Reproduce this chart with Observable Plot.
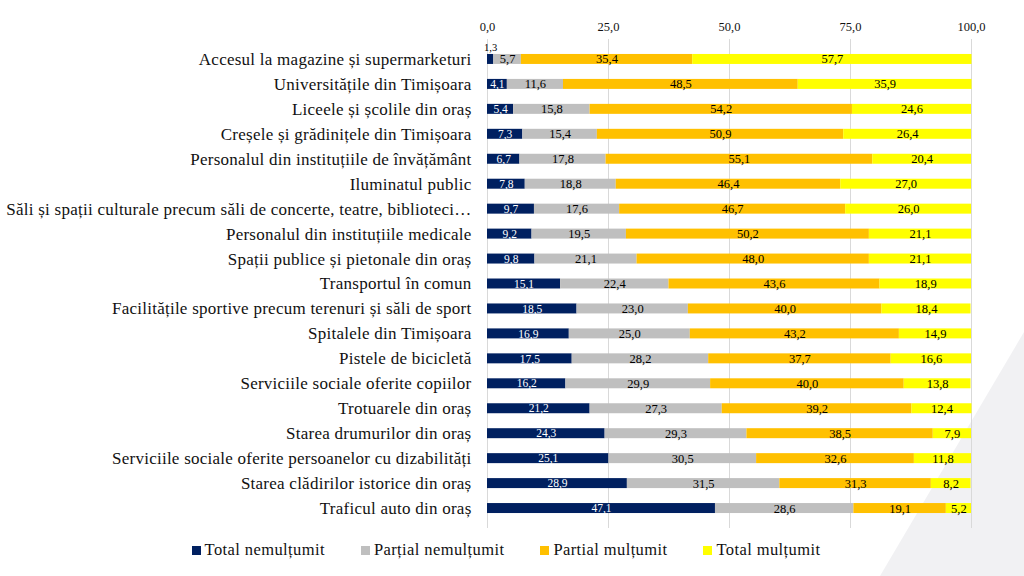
<!DOCTYPE html>
<html><head><meta charset="utf-8">
<script src="https://cdn.jsdelivr.net/npm/d3@7"></script>
<script src="https://cdn.jsdelivr.net/npm/@observablehq/plot@0.6"></script>
<style>
body{margin:0;width:1024px;height:576px;overflow:hidden;background:#fff;font-family:"Liberation Serif",serif;position:relative}
#bg{position:absolute;left:0;top:0;width:1024px;height:576px;background:#f1f1f3;clip-path:polygon(1024px 332px,1024px 576px,880px 576px)}
#chart{position:absolute;left:0;top:0}
#chart g[aria-label="y-axis tick label"]{letter-spacing:0.25px}
#legend{position:absolute;top:540px;left:0;width:1012px;display:flex;justify-content:center;gap:36px;font-size:16.5px;letter-spacing:0.4px;color:#111}
#legend span.item{display:flex;align-items:center}
.sw{display:inline-block;width:9px;height:9px;margin-right:4px}
</style></head><body>
<div id="bg"></div>
<div id="chart"></div>
<div id="legend"></div>
<script>
const categories = [
  "Accesul la magazine și supermarketuri",
  "Universitățile din Timișoara",
  "Liceele și școlile din oraș",
  "Creșele și grădinițele din Timișoara",
  "Personalul din instituțiile de învățământ",
  "Iluminatul public",
  "Săli și spații culturale precum săli de concerte, teatre, biblioteci…",
  "Personalul din instituțiile medicale",
  "Spații publice și pietonale din oraș",
  "Transportul în comun",
  "Facilitățile sportive precum terenuri și săli de sport",
  "Spitalele din Timișoara",
  "Pistele de bicicletă",
  "Serviciile sociale oferite copiilor",
  "Trotuarele din oraș",
  "Starea drumurilor din oraș",
  "Serviciile sociale oferite persoanelor cu dizabilități",
  "Starea clădirilor istorice din oraș",
  "Traficul auto din oraș"
];
const seriesNames = ["Total nemulțumit", "Parțial nemulțumit", "Partial mulțumit", "Total mulțumit"];
const seriesColors = ["#002060", "#BFBFBF", "#FFC000", "#FFFF00"];
const totalNemultumit = [1.3,4.1,5.4,7.3,6.7,7.8,9.7,9.2,9.8,15.1,18.5,16.9,17.5,16.2,21.2,24.3,25.1,28.9,47.1];
const partialNemultumit = [5.7,11.6,15.8,15.4,17.8,18.8,17.6,19.5,21.1,22.4,23.0,25.0,28.2,29.9,27.3,29.3,30.5,31.5,28.6];
const partialMultumit = [35.4,48.5,54.2,50.9,55.1,46.4,46.7,50.2,48.0,43.6,40.0,43.2,37.7,40.0,39.2,38.5,32.6,31.3,19.1];
const totalMultumit = [57.7,35.9,24.6,26.4,20.4,27.0,26.0,21.1,21.1,18.9,18.4,14.9,16.6,13.8,12.4,7.9,11.8,8.2,5.2];
const xTicks = [0, 25, 50, 75, 100];

const seriesValues = [totalNemultumit, partialNemultumit, partialMultumit, totalMultumit];
const rows = [];
categories.forEach((c, i) => {
  seriesNames.forEach((s, j) => {
    rows.push({cat: c, series: s, value: seriesValues[j][i], order: j});
  });
});
const fmt = v => v.toFixed(1).replace(".", ",");

const chart = Plot.plot({
  width: 1024,
  height: 532,
  marginLeft: 487,
  marginRight: 53,
  marginTop: 39,
  marginBottom: 4,
  style: {background: "transparent", fontFamily: "Liberation Serif, serif"},
  x: {domain: [0, 100], axis: null},
  y: {domain: categories, paddingInner: 0.6, paddingOuter: 0.6, round: false, axis: null},
  color: {domain: seriesNames, range: seriesColors},
  marks: [
    Plot.gridX(xTicks, {stroke: "#d9d9d9", strokeOpacity: 1}),
    Plot.barX(rows, Plot.stackX({x: "value", y: "cat", fill: "series", order: seriesNames})),
    Plot.text(rows, Plot.stackX({
      x: "value", y: "cat", z: "series", order: seriesNames,
      text: d => (d.value >= 2 && d.order > 0) ? fmt(d.value) : "",
      fill: "black", fontSize: 12.5
    })),
    Plot.text(rows, Plot.stackX({
      x: "value", y: "cat", z: "series", order: seriesNames,
      text: d => (d.value >= 2 && d.order === 0) ? fmt(d.value) : "",
      fill: "white", fontSize: 11.5
    })),
    Plot.text(rows, Plot.stackX({
      x: "value", y: "cat", z: "series", order: seriesNames,
      text: d => (d.value < 2) ? fmt(d.value) : "",
      dy: -12, dx: 0, fontSize: 10.5, fill: "black"
    })),
    Plot.axisX(xTicks, {anchor: "top", tickFormat: fmt, tickSize: 0, tickPadding: 9, fontSize: 12.5, label: null, fill: "#111"}),
    Plot.axisY({tickSize: 0, tickPadding: 16, fontSize: 17, label: null, fill: "#111"})
  ]
});
document.getElementById("chart").appendChild(chart);

const legend = document.getElementById("legend");
seriesNames.forEach((s, j) => {
  const it = document.createElement("span");
  it.className = "item";
  it.innerHTML = `<span class="sw" style="background:${seriesColors[j]}"></span>${s}`;
  legend.appendChild(it);
});
</script>
</body></html>
